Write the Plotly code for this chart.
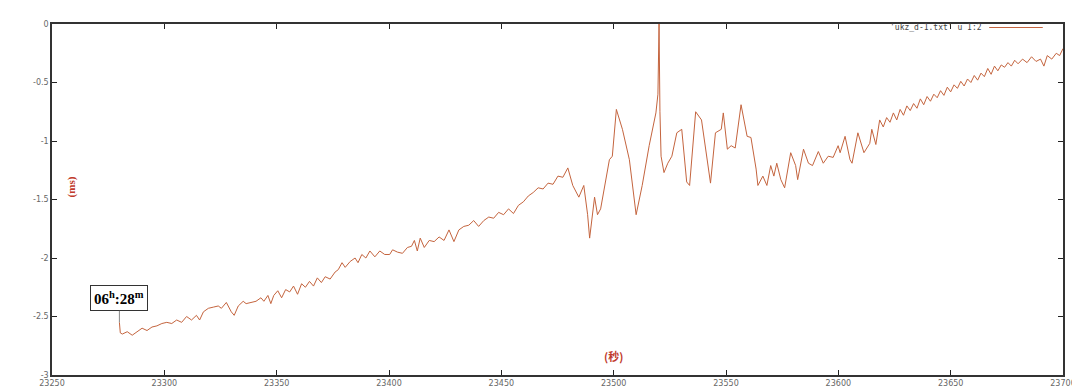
import plotly.graph_objects as go

# time (s) and offset (ms)
t = [23280.0, 23280.4, 23281.3, 23283.5, 23285.7, 23287.9, 23290.1, 23292.3, 23294.5, 23296.7,
     23298.9, 23301.1, 23303.3, 23305.5, 23307.7, 23309.9, 23312.1, 23314.3, 23315.7, 23317.4,
     23319.6, 23321.8, 23324.0, 23325.4, 23327.6, 23329.8, 23331.1, 23332.9, 23335.1, 23336.4,
     23338.6, 23340.8, 23343.0, 23344.3, 23346.1, 23347.4, 23348.7, 23350.5, 23352.2, 23354.0,
     23355.8, 23357.5, 23359.3, 23361.1, 23362.8, 23364.6, 23366.4, 23368.1, 23369.9, 23371.6,
     23373.8, 23376.0, 23377.4, 23379.1, 23380.5, 23382.7, 23384.9, 23386.2, 23387.9, 23389.7,
     23391.5, 23393.7, 23395.9, 23398.1, 23400.3, 23401.6, 23403.8, 23406.0, 23408.2, 23410.0,
     23411.3, 23412.6, 23413.9, 23415.7, 23417.9, 23420.1, 23422.3, 23424.5, 23426.7, 23428.9,
     23431.1, 23433.3, 23435.5, 23437.7, 23439.9, 23442.2, 23444.4, 23446.6, 23448.8, 23451.0,
     23453.2, 23455.4, 23457.6, 23459.8, 23462.0, 23464.2, 23466.4, 23468.6, 23470.8, 23473.0,
     23475.2, 23477.4, 23479.6, 23481.8, 23484.5, 23486.7, 23488.4, 23489.3, 23491.5, 23492.8,
     23494.2, 23495.9, 23498.1, 23499.4, 23501.2, 23503.9, 23507.0, 23510.0, 23512.7, 23515.8,
     23518.8, 23519.7, 23520.2, 23520.6, 23521.1, 23522.4, 23524.1, 23525.9, 23528.1, 23530.3,
     23532.5, 23533.8, 23536.5, 23539.1, 23541.3, 23543.1, 23545.3, 23547.9, 23548.8, 23550.6,
     23552.3, 23554.1, 23556.7, 23559.4, 23561.1, 23563.4, 23564.2, 23566.4, 23568.2, 23569.9,
     23571.3, 23572.6, 23574.4, 23576.1, 23578.8, 23581.0, 23581.9, 23584.5, 23586.7, 23588.5,
     23591.1, 23593.3, 23595.5, 23597.7, 23599.9, 23600.8, 23603.0, 23605.2, 23606.1, 23608.7,
     23611.4, 23614.0, 23614.9, 23616.7, 23618.4, 23620.0, 23621.5, 23623.0, 23624.5, 23626.0,
     23627.5, 23629.0, 23630.5, 23632.0, 23633.5, 23635.0, 23636.5, 23638.0, 23639.5, 23641.0,
     23642.5, 23644.0, 23645.5, 23647.0, 23648.5, 23650.0, 23651.5, 23653.0, 23654.5, 23656.0,
     23657.5, 23659.0, 23660.5, 23662.0, 23663.5, 23665.0, 23666.5, 23668.0, 23669.5, 23671.0,
     23672.5, 23674.0, 23675.5, 23677.0, 23678.5, 23680.0, 23682.0, 23684.0, 23686.0, 23688.0,
     23690.0, 23691.5, 23693.0, 23695.0, 23697.0, 23698.5, 23700.0]

ms = [-2.55, -2.64, -2.65, -2.63, -2.66, -2.63, -2.60, -2.62, -2.59, -2.58,
      -2.56, -2.55, -2.56, -2.53, -2.55, -2.50, -2.53, -2.49, -2.53, -2.46,
      -2.43, -2.42, -2.41, -2.43, -2.38, -2.46, -2.49, -2.41, -2.37, -2.39,
      -2.38, -2.37, -2.34, -2.37, -2.32, -2.39, -2.32, -2.28, -2.34, -2.27,
      -2.29, -2.24, -2.31, -2.22, -2.25, -2.20, -2.24, -2.17, -2.21, -2.16,
      -2.18, -2.12, -2.10, -2.04, -2.08, -2.03, -2.00, -2.04, -1.97, -2.00,
      -1.94, -1.99, -1.94, -1.97, -1.97, -1.93, -1.95, -1.96, -1.91, -1.90,
      -1.85, -1.94, -1.83, -1.91, -1.85, -1.86, -1.82, -1.85, -1.76, -1.86,
      -1.76, -1.73, -1.72, -1.68, -1.73, -1.68, -1.65, -1.66, -1.61, -1.63,
      -1.58, -1.62, -1.55, -1.52, -1.47, -1.44, -1.40, -1.41, -1.36, -1.37,
      -1.30, -1.31, -1.23, -1.38, -1.48, -1.38, -1.63, -1.83, -1.48, -1.63,
      -1.58, -1.38, -1.16, -1.13, -0.73, -0.90, -1.16, -1.63, -1.38, -1.04,
      -0.76, -0.60, 0.0, -0.75, -1.13, -1.27, -1.19, -1.13, -0.93, -0.90,
      -1.35, -1.38, -0.75, -0.82, -1.10, -1.36, -0.93, -0.90, -0.76, -1.07,
      -1.04, -1.06, -0.69, -0.96, -0.97, -1.24, -1.38, -1.30, -1.38, -1.21,
      -1.30, -1.19, -1.33, -1.40, -1.10, -1.21, -1.33, -1.07, -1.19, -1.21,
      -1.09, -1.19, -1.13, -1.14, -1.04, -1.10, -0.96, -1.16, -1.19, -0.93,
      -1.10, -1.02, -0.90, -1.03, -0.82, -0.88, -0.80, -0.84, -0.76, -0.82,
      -0.73, -0.78, -0.70, -0.74, -0.68, -0.72, -0.64, -0.69, -0.62, -0.66,
      -0.60, -0.63, -0.57, -0.61, -0.54, -0.58, -0.52, -0.55, -0.49, -0.53,
      -0.47, -0.50, -0.44, -0.48, -0.42, -0.45, -0.38, -0.43, -0.36, -0.40,
      -0.35, -0.37, -0.33, -0.36, -0.31, -0.34, -0.30, -0.33, -0.28, -0.32,
      -0.30, -0.36, -0.27, -0.30, -0.25, -0.27, -0.21]

x_ticks = [23250, 23300, 23350, 23400, 23450, 23500, 23550, 23600, 23650, 23700]
x_tick_labels = [str(v) for v in x_ticks]
y_ticks = [0, -0.5, -1, -1.5, -2, -2.5, -3]
y_tick_labels = ["0", "-0.5", "-1", "-1.5", "-2", "-2.5", "-3"]
series_name = "'ukz_d-1.txt' u 1:2"
mark_label = "<b>06<sup>h</sup>:28<sup>m</sup></b>"

LINE = "#c4643e"

fig = go.Figure()
fig.add_trace(go.Scatter(x=t, y=ms, mode="lines", name=series_name,
                         line=dict(color=LINE, width=1), cliponaxis=True))

axis_common = dict(showgrid=False, zeroline=False, showline=True, linecolor="#333",
                   linewidth=1.5, mirror="ticks", ticks="inside", ticklen=5,
                   tickcolor="#222", tickwidth=1,
                   tickfont=dict(family="DejaVu Sans", size=8, color="#666"))

fig.update_layout(
    width=1080, height=392,
    margin=dict(l=44, r=15, t=16, b=20),
    paper_bgcolor="white", plot_bgcolor="white",
    showlegend=False,
    xaxis=dict(range=[23250, 23700], tickvals=x_ticks, ticktext=x_tick_labels, **axis_common),
    yaxis=dict(range=[-3, 0], tickvals=y_ticks, ticktext=y_tick_labels, **axis_common),
)

# axis titles placed inside the frame like the gnuplot original
fig.add_annotation(xref="paper", yref="paper", x=0.019, y=0.535, xanchor="center", yanchor="middle",
                   text="<b>(ms)</b>", showarrow=False, textangle=-90,
                   font=dict(family="Liberation Serif", size=11, color="#c0392b"))
fig.add_annotation(xref="x", yref="paper", x=23500, y=0.025, yanchor="bottom", text="<b>(秒)</b>",
                   showarrow=False, font=dict(family="Noto Sans CJK SC", size=11, color="#c0392b"))

# legend (text then sample line, gnuplot style)
fig.add_annotation(xref="paper", yref="paper", x=0.922, y=0.99, xanchor="right", yanchor="middle",
                   text=series_name, showarrow=False,
                   font=dict(family="DejaVu Sans Mono", size=8, color="#444"))
fig.add_shape(type="line", xref="paper", yref="paper", x0=0.927, x1=0.98, y0=0.99, y1=0.99,
              line=dict(color=LINE, width=1))

# time-mark annotation with arrow to the start of the series
fig.add_annotation(x=t[0], y=ms[0], xref="x", yref="y", text=mark_label,
                   showarrow=True, arrowhead=0, arrowwidth=1, arrowcolor="#888",
                   ax=0, ay=-24, bordercolor="#333", borderwidth=1, borderpad=3, bgcolor="white",
                   font=dict(family="Liberation Serif", size=15, color="black"))

fig.write_html("out.html")
